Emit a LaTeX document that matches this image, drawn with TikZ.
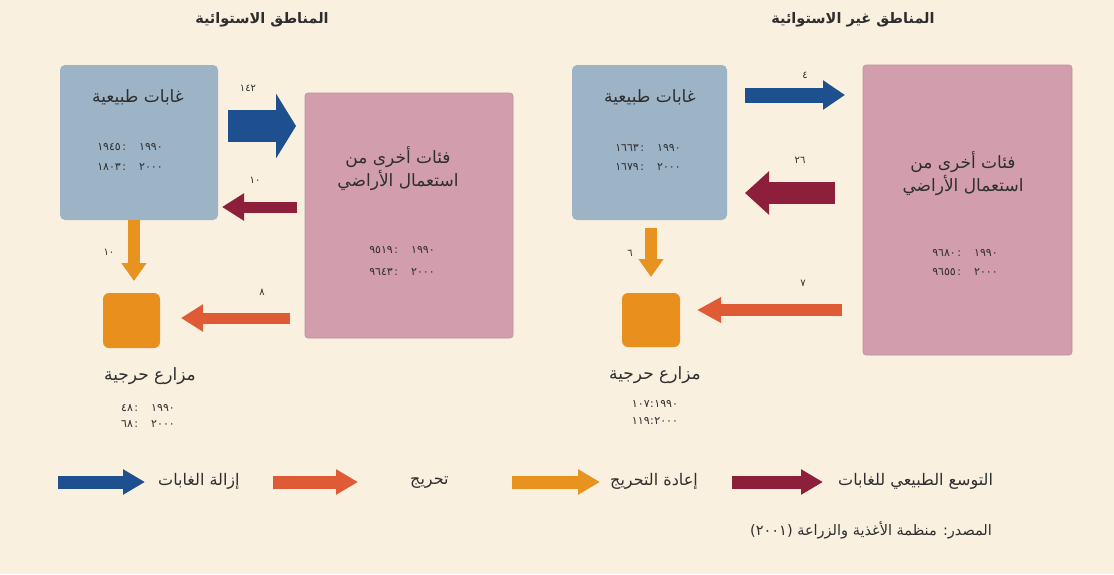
\documentclass[tikz,border=0pt]{standalone}
\usepackage{fontspec}
\newfontfamily\arabicfont[Script=Arabic]{DejaVu Sans}
\TeXXeTstate=1
\usetikzlibrary{arrows.meta}
\definecolor{bg}{HTML}{FAF0DF}
\definecolor{boxblue}{HTML}{9DB4C6}
\definecolor{boxpink}{HTML}{D29EAE}
\definecolor{sqorange}{HTML}{E98F1E}
\definecolor{cdefor}{HTML}{1E4F8E}
\definecolor{cexpan}{HTML}{8E1F3B}
\definecolor{crefor}{HTML}{E8921F}
\definecolor{caffor}{HTML}{DF5B35}
\definecolor{txt}{HTML}{2E2E2E}
\newcommand\artxt[1]{{\arabicfont\beginR #1\endR}}
\newcommand\numrow[2]{\artxt{#2\hspace{13pt}:\hspace{1.5pt}#1}}
\tikzset{
  bluebox/.style={fill=boxblue, rounded corners=5pt, inner sep=0pt},
  pinkbox/.style={fill=boxpink, draw=boxpink!85!black!90, line width=0.6pt, rounded corners=3pt, inner sep=0pt},
  sqbox/.style={fill=sqorange, rounded corners=6pt, inner sep=0pt},
  title/.style={text=txt, font=\arabicfont\bfseries\fontsize{14.5}{16}\selectfont, inner sep=0pt},
  boxtitle/.style={text=txt, font=\arabicfont\fontsize{17}{19}\selectfont, inner sep=0pt},
  nums/.style={text=txt, font=\arabicfont\fontsize{11}{12}\selectfont, inner sep=0pt},
  flowlbl/.style={text=txt, font=\arabicfont\fontsize{10}{11}\selectfont, inner sep=0pt},
  legtxt/.style={text=txt, font=\arabicfont\fontsize{16}{18}\selectfont, inner sep=0pt, anchor=west},
  fat/.style={line width=#1},
}
\begin{document}
\begin{tikzpicture}[x=1pt,y=-1pt]
\fill[bg] (0,0) rectangle (1114,574);
\useasboundingbox (0,0) rectangle (1114,574);

% titles
\node[title] (tL) at (262,20) {\artxt{المناطق الاستوائية}};
\node[title] (tR) at (853,20) {\artxt{المناطق غير الاستوائية}};

% ---------- left (tropical) ----------
\node[bluebox, minimum width=158pt, minimum height=155pt] (nfL) at (139,142.5) {};
\node[pinkbox, minimum width=208pt, minimum height=245pt] (oL) at (409,215.5) {};
\node[sqbox, minimum width=57pt, minimum height=55pt] (pL) at (131.5,320.5) {};

\node[boxtitle] (nfLt) at (138,97) {\artxt{غابات طبيعية}};
\node[nums] (nfLn1) at (130,147) {\numrow{١٩٤٥}{١٩٩٠}};
\node[nums] (nfLn2) at (130,167) {\numrow{١٨٠٣}{٢٠٠٠}};

\node[boxtitle] (oLt1) at (398,157) {\artxt{فئات أخرى من}};
\node[boxtitle] (oLt2) at (398,180) {\artxt{استعمال الأراضي}};
\node[nums] (oLn1) at (402,250) {\numrow{٩٥١٩}{١٩٩٠}};
\node[nums] (oLn2) at (402,272) {\numrow{٩٦٤٣}{٢٠٠٠}};

\node[boxtitle] (pLt) at (150,376) {\artxt{مزارع حرجية}};
\node[nums] (pLn1) at (148,408) {\numrow{٤٨}{١٩٩٠}};
\node[nums] (pLn2) at (148,424) {\numrow{٦٨}{٢٠٠٠}};

\coordinate (dLs) at (228,126); \coordinate (dLe) at (296,126);
\coordinate (eLs) at (297,207); \coordinate (eLe) at (222,207);
\coordinate (rLs) at (134,220); \coordinate (rLe) at (134,281);
\coordinate (aLs) at (290,318); \coordinate (aLe) at (181,318);
\draw[cdefor, fat=32pt, -{Triangle[length=20pt,width=64pt]}] (dLs) -- (dLe);
\draw[cexpan, fat=11pt, -{Triangle[length=22pt,width=26pt]}] (eLs) -- (eLe);
\draw[crefor, fat=12pt, -{Triangle[length=18pt,width=24pt]}] (rLs) -- (rLe);
\draw[caffor, fat=11pt, -{Triangle[length=22pt,width=26pt]}] (aLs) -- (aLe);
\node[flowlbl] (ldL) at (248,88) {١٤٢};
\node[flowlbl] (leL) at (255,180) {١٠};
\node[flowlbl] (lrL) at (109,252) {١٠};
\node[flowlbl] (laL) at (262,292) {٨};

% ---------- right (non-tropical) ----------
\node[bluebox, minimum width=155pt, minimum height=155pt] (nfR) at (649.5,142.5) {};
\node[pinkbox, minimum width=209pt, minimum height=290pt] (oR) at (967.5,210) {};
\node[sqbox, minimum width=58pt, minimum height=54pt] (pR) at (651,320) {};

\node[boxtitle] (nfRt) at (650,97) {\artxt{غابات طبيعية}};
\node[nums] (nfRn1) at (648,148) {\numrow{١٦٦٣}{١٩٩٠}};
\node[nums] (nfRn2) at (648,167) {\numrow{١٦٧٩}{٢٠٠٠}};

\node[boxtitle] (oRt1) at (963,162) {\artxt{فئات أخرى من}};
\node[boxtitle] (oRt2) at (963,185) {\artxt{استعمال الأراضي}};
\node[nums] (oRn1) at (965,253) {\numrow{٩٦٨٠}{١٩٩٠}};
\node[nums] (oRn2) at (965,272) {\numrow{٩٦٥٥}{٢٠٠٠}};

\node[boxtitle] (pRt) at (655,375) {\artxt{مزارع حرجية}};
\node[nums] (pRn1) at (655,404) {\artxt{١٩٩٠\hspace{0.5pt}:\hspace{0.5pt}١٠٧}};
\node[nums] (pRn2) at (655,421) {\artxt{٢٠٠٠\hspace{0.5pt}:\hspace{0.5pt}١١٩}};

\coordinate (dRs) at (745,95); \coordinate (dRe) at (845,95);
\coordinate (eRs) at (835,193); \coordinate (eRe) at (745,193);
\coordinate (rRs) at (651,228); \coordinate (rRe) at (651,277);
\coordinate (aRs) at (842,310); \coordinate (aRe) at (697,310);
\draw[cdefor, fat=15pt, -{Triangle[length=22pt,width=28pt]}] (dRs) -- (dRe);
\draw[cexpan, fat=22pt, -{Triangle[length=24pt,width=42pt]}] (eRs) -- (eRe);
\draw[crefor, fat=12pt, -{Triangle[length=18pt,width=24pt]}] (rRs) -- (rRe);
\draw[caffor, fat=12pt, -{Triangle[length=24pt,width=24pt]}] (aRs) -- (aRe);
\node[flowlbl] (ldR) at (805,75) {٤};
\node[flowlbl] (leR) at (800,160) {٢٦};
\node[flowlbl] (lrR) at (630,253) {٦};
\node[flowlbl] (laR) at (803,283) {٧};

% ---------- legend ----------
\coordinate (g1s) at (58,482); \coordinate (g1e) at (145,482);
\coordinate (g2s) at (273,482); \coordinate (g2e) at (358,482);
\coordinate (g3s) at (512,482); \coordinate (g3e) at (600,482);
\coordinate (g4s) at (732,482); \coordinate (g4e) at (823,482);
\draw[cdefor, fat=13pt, -{Triangle[length=22pt,width=24pt]}] (g1s) -- (g1e);
\draw[caffor, fat=13pt, -{Triangle[length=22pt,width=24pt]}] (g2s) -- (g2e);
\draw[crefor, fat=13pt, -{Triangle[length=22pt,width=24pt]}] (g3s) -- (g3e);
\draw[cexpan, fat=13pt, -{Triangle[length=22pt,width=24pt]}] (g4s) -- (g4e);
\node[legtxt] (g1t) at (158,481) {\artxt{إزالة الغابات}};
\node[legtxt] (g2t) at (410,483) {\artxt{تحريج}};
\node[legtxt] (g3t) at (610,481) {\artxt{إعادة التحريج}};
\node[legtxt] (g4t) at (838,481) {\artxt{التوسع الطبيعي للغابات}};

\node[legtxt, font=\arabicfont\fontsize{14.5}{16}\selectfont] (src) at (750,530) {\artxt{المصدر: منظمة الأغذية والزراعة \beginL(٢٠٠١)\endL}};
\end{tikzpicture}
\end{document}
